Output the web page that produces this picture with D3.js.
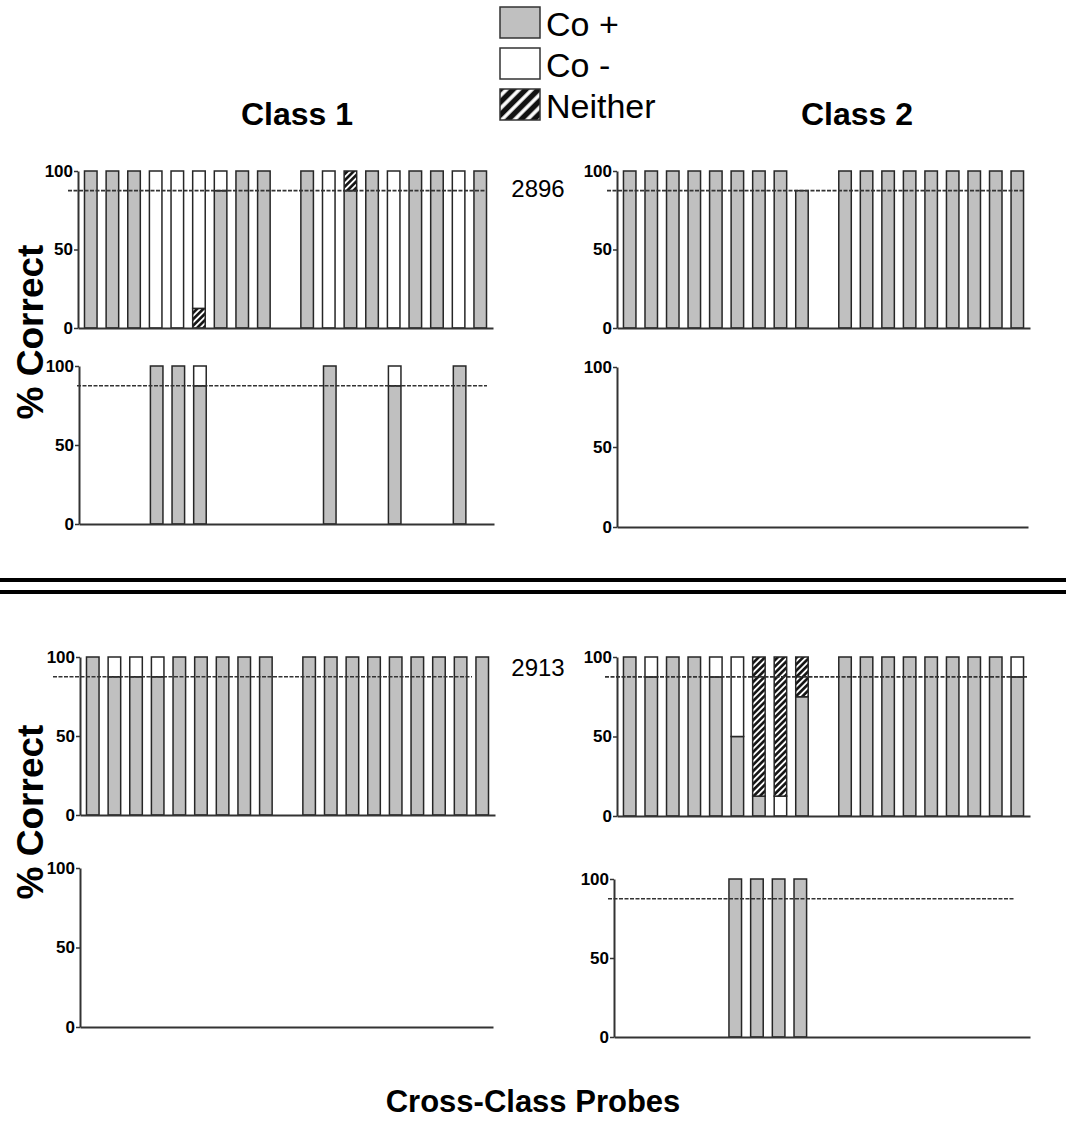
<!DOCTYPE html>
<html>
<head>
<meta charset="utf-8">
<script src="https://cdn.jsdelivr.net/npm/d3@7"></script>
<style>
  body { margin: 0; background: #fff; }
  svg { font-family: "Liberation Sans", Arial, sans-serif; }
</style>
</head>
<body>
<svg id="fig" width="1066" height="1130"></svg>
<script>
// categories and colours
const categories = ["pos", "neg", "nei"]
const categoryLabels = ["Co +", "Co -", "Neither"]
const slots = d3.range(1, 20)   // 19 probe slots, slot 10 left empty
const yTicks = [0, 50, 100]
const criterion = 87.5

// each bar = segments from bottom up: [category, percent]
const G = [["pos", 100]]
const W = [["neg", 100]]
const GW = [["pos", 87.5], ["neg", 12.5]]

const bars2896Class1 = [G, G, G, W, W, [["nei", 12.5], ["neg", 87.5]], GW, G, G, null,
  G, W, [["pos", 87.5], ["nei", 12.5]], G, W, G, G, W, G]
const bars2896Class1Retest = [null, null, null, G, G, GW, null, null, null, null,
  null, G, null, null, GW, null, null, G, null]
const bars2896Class2 = [G, G, G, G, G, G, G, G, [["pos", 87.5]], null,
  G, G, G, G, G, G, G, G, G]
const bars2896Class2Retest = []
const bars2913Class1 = [G, GW, GW, GW, G, G, G, G, G, null,
  G, G, G, G, G, G, G, G, G]
const bars2913Class2 = [G, GW, G, G, GW, [["pos", 50], ["neg", 50]],
  [["pos", 12.5], ["nei", 87.5]], [["neg", 12.5], ["nei", 87.5]], [["pos", 75], ["nei", 25]], null,
  G, G, G, G, G, G, G, G, GW]
const bars2913Class1Retest = []
const bars2913Class2Retest = [null, null, null, null, null, G, G, G, G]

const svg = d3.select("#fig")
const defs = svg.append("defs")
function hatch(id, size, sw) {
  const p = defs.append("pattern").attr("id", id).attr("patternUnits", "userSpaceOnUse")
    .attr("width", size).attr("height", size).attr("patternTransform", "rotate(45)")
  p.append("rect").attr("width", size).attr("height", size).attr("fill", "#fff")
  p.append("line").attr("x1", size / 2).attr("x2", size / 2).attr("y1", 0).attr("y2", size)
    .attr("stroke", "#111").attr("stroke-width", sw)
}
hatch("hatch", 4.5, 2.6)
hatch("hatchBig", 9, 5.5)

const fills = { pos: "#c0c0c0", neg: "#ffffff", nei: "url(#hatch)" }

// panel layout
const panels = [
  { bars: bars2896Class1, ax: 78, xe: 493, y100: 171, y0: 328, l0: 68, l1: 485 },
  { bars: bars2896Class1Retest, ax: 79, xe: 494, y100: 366, y0: 524, l0: 77, l1: 487 },
  { bars: bars2896Class2, ax: 617, xe: 1030, y100: 171, y0: 328, l0: 607, l1: 1025 },
  { bars: bars2896Class2Retest, ax: 617, xe: 1028, y100: 367, y0: 527, line: false },
  { bars: bars2913Class1, ax: 80, xe: 495, y100: 657, y0: 815, l0: 53, l1: 472 },
  { bars: bars2913Class2, ax: 617, xe: 1030, y100: 657, y0: 816, l0: 605, l1: 1028 },
  { bars: bars2913Class1Retest, ax: 80, xe: 493, y100: 868, y0: 1027, line: false },
  { bars: bars2913Class2Retest, ax: 614, xe: 1030, y100: 879, y0: 1037, l0: 608, l1: 1015 }
]

panels.forEach(p => {
  const g = svg.append("g")
  const x = d3.scaleBand().domain(slots).range([p.ax, p.xe]).paddingInner(0.42).paddingOuter(0.3)
  const y = d3.scaleLinear().domain([0, 100]).range([p.y0, p.y100])

  // bars
  p.bars.forEach((segs, i) => {
    if (!segs) return
    let base = 0
    segs.forEach(([cat, v]) => {
      g.append("rect")
        .attr("x", x(slots[i])).attr("width", x.bandwidth())
        .attr("y", y(base + v)).attr("height", y(base) - y(base + v))
        .attr("fill", fills[cat]).attr("stroke", "#262626").attr("stroke-width", 1.5)
      base += v
    })
  })

  // criterion line
  if (p.line !== false) {
    g.append("line").attr("x1", p.l0).attr("x2", p.l1)
      .attr("y1", y(criterion)).attr("y2", y(criterion))
      .attr("stroke", "#333").attr("stroke-width", 1.6).attr("stroke-dasharray", "4,1.5")
  }

  // axes
  const ya = g.append("g").attr("transform", `translate(${p.ax},0)`)
    .call(d3.axisLeft(y).tickValues(yTicks).tickSize(4).tickSizeOuter(0).tickPadding(1))
  ya.selectAll("text").attr("font-size", 17).attr("font-weight", "bold").attr("fill", "#000")
    .attr("font-family", "Liberation Sans, Arial")
  const xa = g.append("g").attr("transform", `translate(0,${p.y0})`)
    .call(d3.axisBottom(x).tickValues([]).tickSizeOuter(0))
  g.selectAll(".domain").attr("stroke", "#333").attr("stroke-width", 2)
  g.selectAll(".tick line").attr("stroke", "#333").attr("stroke-width", 1.5)
})

// legend
const legend = svg.append("g").attr("transform", "translate(500,7)")
const legendFills = { pos: "#c0c0c0", neg: "#ffffff", nei: "url(#hatchBig)" }
categories.forEach((c, i) => {
  legend.append("rect").attr("x", 0).attr("y", i * 41).attr("width", 40).attr("height", 31)
    .attr("fill", legendFills[c]).attr("stroke", "#333").attr("stroke-width", 1.5)
  legend.append("text").attr("x", 46).attr("y", i * 41 + 29).attr("font-size", 34)
    .text(categoryLabels[i])
})

// titles & labels
svg.append("text").attr("x", 297).attr("y", 125).attr("text-anchor", "middle")
  .attr("font-size", 32).attr("font-weight", "bold").text("Class 1")
svg.append("text").attr("x", 857).attr("y", 125).attr("text-anchor", "middle")
  .attr("font-size", 32).attr("font-weight", "bold").text("Class 2")
svg.append("text").attr("x", 538).attr("y", 197).attr("text-anchor", "middle")
  .attr("font-size", 24).text("2896")
svg.append("text").attr("x", 538).attr("y", 676).attr("text-anchor", "middle")
  .attr("font-size", 24).text("2913")
;[332, 812].forEach(cy => {
  svg.append("text").attr("transform", `translate(43,${cy}) rotate(-90)`)
    .attr("text-anchor", "middle").attr("font-size", 37).attr("font-weight", "bold").text("% Correct")
})
svg.append("text").attr("x", 533).attr("y", 1112).attr("text-anchor", "middle")
  .attr("font-size", 31).attr("font-weight", "bold").text("Cross-Class Probes")

// separator double rule
;[580, 592].forEach(yy => {
  svg.append("line").attr("x1", 0).attr("x2", 1066).attr("y1", yy).attr("y2", yy)
    .attr("stroke", "#000").attr("stroke-width", 4)
})
</script>
</body>
</html>
